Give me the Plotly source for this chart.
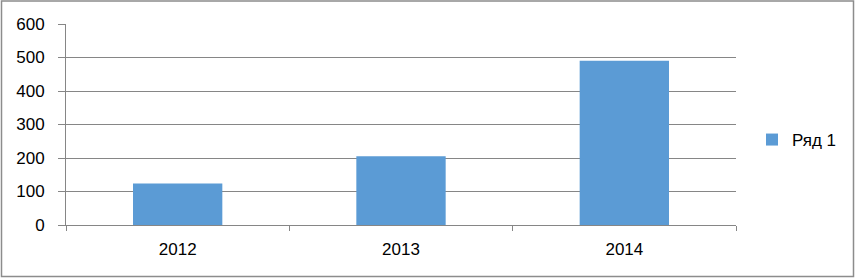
import plotly.graph_objects as go

categories = ["2012", "2013", "2014"]
values = [124, 205, 490]
series_name = "Ряд 1"
y_ticks = [0, 100, 200, 300, 400, 500, 600]

W, H = 855, 278
L, R, T, B = 66, 119, 24, 53
pw, ph = W - L - R, H - T - B

fig = go.Figure()
fig.add_trace(go.Bar(x=categories, y=values, name=series_name,
                     marker=dict(color="#5B9BD5", line=dict(width=0)),
                     width=0.4))

font = dict(family="Liberation Sans, Arial, sans-serif", size=17, color="#000000")

fig.update_layout(
    width=W, height=H,
    margin=dict(l=L, r=R, t=T, b=B, pad=0),
    paper_bgcolor="white", plot_bgcolor="white",
    font=font,
    showlegend=True,
    legend=dict(x=(752 - L) / pw, xanchor="left", y=(H - B - 140) / ph, yanchor="middle",
                font=font, bgcolor="rgba(0,0,0,0)"),
    xaxis=dict(type="category", showgrid=False, showline=True, linecolor="#868686",
               linewidth=1, ticks="outside", tickson="boundaries", ticklen=5,
               tickcolor="#868686", tickfont=font, ticklabelstandoff=9,
               fixedrange=True),
    yaxis=dict(range=[0, 600], tickvals=y_ticks, showgrid=True, gridcolor="#868686",
               gridwidth=1, showline=True, linecolor="#868686", linewidth=1,
               ticks="outside", ticklen=7, tickcolor="#868686", tickfont=font,
               ticklabelstandoff=10, zeroline=False, fixedrange=True),
)

fig.add_shape(type="rect", xref="paper", yref="paper",
              x0=(1.5 - L) / pw, x1=(853.5 - L) / pw,
              y0=(H - 276.5 - B) / ph, y1=(H - 1.0 - B) / ph,
              line=dict(color="#8C8C8C", width=1.5), fillcolor="rgba(0,0,0,0)",
              layer="above")

fig.write_html("out.html", config={"displayModeBar": False},
               post_script="document.body.style.margin='0';document.body.style.overflow='hidden';")
